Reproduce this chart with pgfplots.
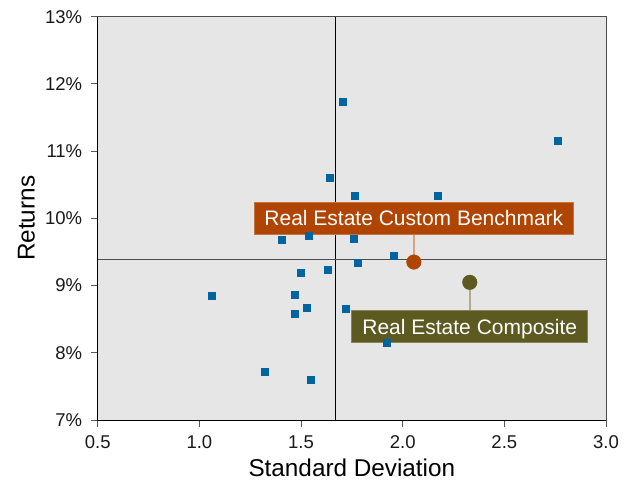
\documentclass[border=0pt]{standalone}
\usepackage{fontspec}
\setmainfont{Liberation Sans}
\usepackage{pgfplots}
\pgfplotsset{compat=1.18}
\definecolor{figbg}{HTML}{E6E6E6}
\definecolor{ptblue}{HTML}{00649E}
\definecolor{bench}{HTML}{AF4500}
\definecolor{comp}{HTML}{5C5A21}
\begin{document}
\begin{tikzpicture}
\begin{axis}[
 at={(97.7bp,61bp)}, anchor=south west,
 scale only axis, width=508.3bp, height=403.3bp,
 xmin=0.5,xmax=3,ymin=7,ymax=13,
 axis background/.style={fill=figbg},
 axis line style={draw=black!70, line width=0.9bp},
 tick pos=left, tick align=outside, major tick length=7bp,
 every tick/.style={draw=black!65, line width=0.9bp},
 xtick={0.5,1,1.5,2,2.5,3}, xticklabels={0.5,1.0,1.5,2.0,2.5,3.0},
 ytick={7,8,9,10,11,12,13}, yticklabels={7\%,8\%,9\%,10\%,11\%,12\%,13\%},
 ticklabel style={font=\fontsize{18.5bp}{22bp}\selectfont, text=black!90},
 xticklabel style={yshift=-5bp},
 yticklabel style={xshift=-5bp},
 xlabel={Standard Deviation}, ylabel={Returns},
 label style={font=\fontsize{24.3bp}{28bp}\selectfont},
 xlabel style={at={([yshift=-56.5bp]axis description cs:0.5,0)}, anchor=base},
 ylabel style={at={([xshift=-63.2bp]axis description cs:0,0.5)}, anchor=base, rotate=0},
 clip=false,
]
\draw[black, line width=1bp] (axis cs:1.668,7) -- (axis cs:1.668,13);
\draw[black!70, line width=1bp] (axis cs:0.5,9.394) -- (axis cs:3,9.394);
\addplot[only marks, mark=square*, mark size=3.5bp, color=ptblue] coordinates {
(1.703,11.73) (2.760,11.16) (1.639,10.61) (1.762,10.33) (2.170,10.33)
(1.540,9.737) (1.757,9.702) (1.403,9.677) (1.958,9.449) (1.781,9.345)
(1.629,9.241) (1.496,9.196) (1.526,8.676) (1.722,8.661) (1.919,8.155)
(1.550,7.604) (1.059,8.854) (1.467,8.869) (1.467,8.586) (1.319,7.723)
};
\draw[color=bench!50!white, line width=1.5bp] (axis cs:2.055,10.0) -- (axis cs:2.055,9.35);
\draw[color=comp!50!white, line width=1.5bp] (axis cs:2.33,9.048) -- (axis cs:2.33,8.388);
\addplot[only marks, mark=*, mark size=7.3bp, color=bench] coordinates {(2.055,9.35)};
\addplot[only marks, mark=*, mark size=7.3bp, color=comp] coordinates {(2.33,9.048)};
\node[fill=bench, draw=bench!75!white, line width=0.8bp, text=white,
  font=\fontsize{21bp}{25bp}\selectfont, inner xsep=10.5bp, inner ysep=8.5bp,
  text height=15bp, text depth=0bp] at (axis cs:2.055,10.0) {Real Estate Custom Benchmark};
\node[fill=comp, draw=comp!75!white, line width=0.8bp, text=white,
  font=\fontsize{21bp}{25bp}\selectfont, inner xsep=10.5bp, inner ysep=8.5bp,
  text height=15bp, text depth=0bp] at (axis cs:2.33,8.388) {Real Estate Composite};
\draw[black, line width=0.9bp] (rel axis cs:0,1) -- (rel axis cs:0,0) -- (rel axis cs:1,0);
\end{axis}
\pgfresetboundingbox
\useasboundingbox (0,0) rectangle (634bp,481bp);
\end{tikzpicture}
\end{document}
